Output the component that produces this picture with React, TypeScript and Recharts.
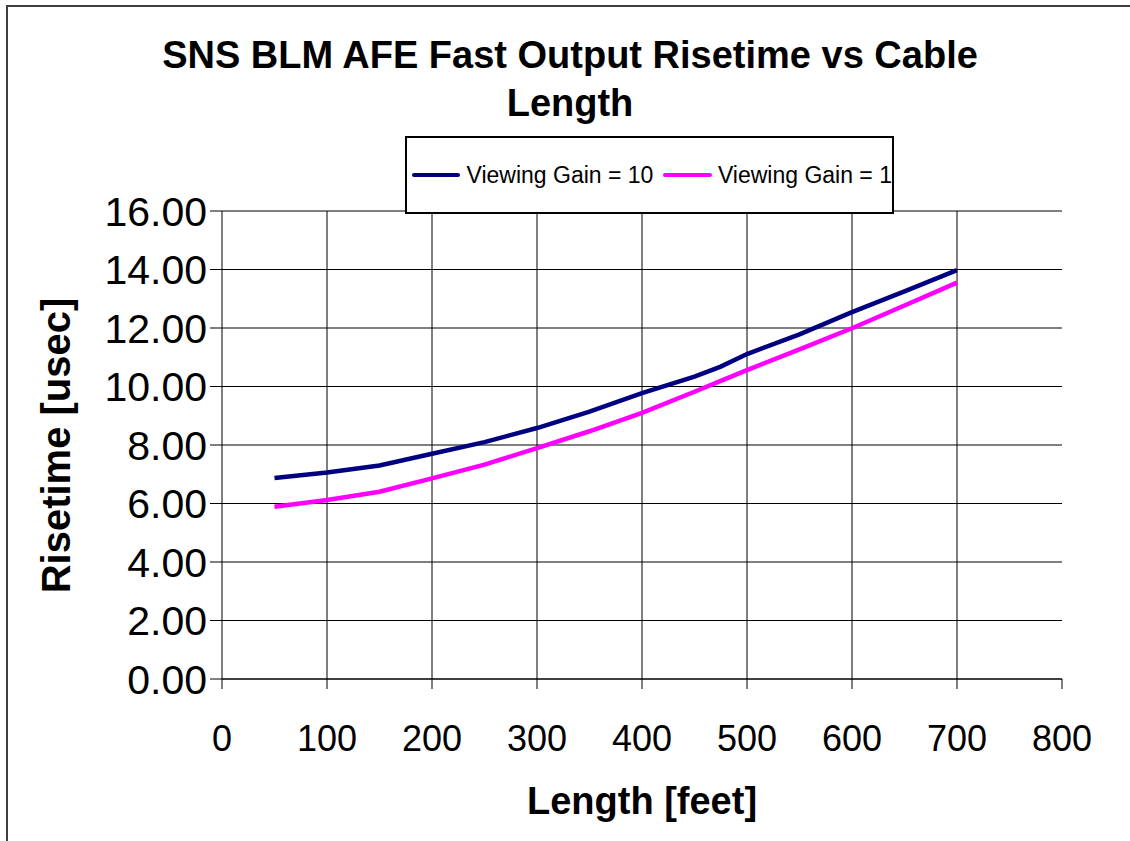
import React from 'react';
import { LineChart, Line, XAxis, YAxis, CartesianGrid, ReferenceLine } from 'recharts';

const lengthFeet = [50, 100, 150, 200, 250, 300, 350, 400, 450, 475, 500, 550, 600, 650, 700];
const gain10 = [6.87, 7.06, 7.3, 7.7, 8.1, 8.58, 9.14, 9.77, 10.34, 10.68, 11.11, 11.78, 12.54, 13.25, 13.98];
const gain1 = [5.89, 6.12, 6.4, 6.86, 7.33, 7.89, 8.47, 9.1, 9.82, 10.19, 10.56, 11.27, 11.99, 12.77, 13.55];
const xTicks = [0, 100, 200, 300, 400, 500, 600, 700, 800];
const yTicks = [0, 2, 4, 6, 8, 10, 12, 14, 16];
const innerGridX = [100, 200, 300, 400, 500, 600, 700];

const data = lengthFeet.map((x, i) => ({ x, g10: gain10[i], g1: gain1[i] }));

const FONT = 'Arial, "Liberation Sans", sans-serif';

export default function App() {
  return (
    <div style={{ position: 'fixed', left: 0, top: 0, width: 1130, height: 841, overflow: 'hidden', background: '#fff', fontFamily: FONT }}>
      <div style={{ position: 'absolute', left: 6, top: 5, width: 1200, height: 900, border: '2px solid #404040' }} />
      <div style={{ position: 'absolute', left: 0, top: 31, width: 1140, textAlign: 'center', fontWeight: 'bold', fontSize: 38, lineHeight: '48px', color: '#000' }}>
        SNS BLM AFE Fast Output Risetime vs Cable<br />Length
      </div>
      <LineChart width={1130} height={841} data={data} margin={{ top: 211, right: 68, left: 102, bottom: 92 }} style={{ position: 'absolute', left: 0, top: 0 }}>
        <CartesianGrid vertical={false} stroke="#000" strokeWidth={1} />
        {innerGridX.map((v) => (
          <ReferenceLine key={v} x={v} stroke="#000" strokeWidth={1} />
        ))}
        <XAxis
          dataKey="x"
          type="number"
          domain={[0, 800]}
          ticks={xTicks}
          tickSize={10}
          tickMargin={36}
          stroke="#000"
          tick={{ fill: '#000', fontSize: 36, fontFamily: FONT }}
          height={70}
          interval={0}
        />
        <YAxis
          type="number"
          domain={[0, 16]}
          ticks={yTicks}
          tickFormatter={(v: number) => v.toFixed(2)}
          tickSize={12}
          tickMargin={3}
          stroke="#000"
          tick={{ fill: '#000', fontSize: 41, fontFamily: FONT }}
          width={120}
          interval={0}
        />
        <Line dataKey="g10" stroke="#000080" strokeWidth={4.5} dot={false} isAnimationActive={false} />
        <Line dataKey="g1" stroke="#FF00FF" strokeWidth={4.5} dot={false} isAnimationActive={false} />
      </LineChart>
      <div style={{ position: 'absolute', left: 20, top: 445, transform: 'translate(0,-50%)', width: 74, height: 400, display: 'flex', alignItems: 'center', justifyContent: 'center' }}>
        <div style={{ transform: 'rotate(-90deg)', whiteSpace: 'nowrap', fontWeight: 'bold', fontSize: 40, color: '#000' }}>Risetime [usec]</div>
      </div>
      <div style={{ position: 'absolute', left: 222, width: 840, top: 780, textAlign: 'center', fontWeight: 'bold', fontSize: 38, color: '#000' }}>
        Length [feet]
      </div>
      <div style={{ position: 'absolute', left: 405, top: 136, width: 485, height: 74, border: '2px solid #000', background: '#fff', display: 'flex', alignItems: 'center', fontSize: 23, color: '#000', whiteSpace: 'nowrap' }}>
        <span style={{ display: 'inline-block', width: 50, height: 4, background: '#000080', marginLeft: 5, marginRight: 6, borderRadius: 2 }} />
        <span>Viewing Gain = 10</span>
        <span style={{ display: 'inline-block', width: 50, height: 4, background: '#FF00FF', marginLeft: 10, marginRight: 6, borderRadius: 2 }} />
        <span>Viewing Gain = 1</span>
      </div>
    </div>
  );
}
